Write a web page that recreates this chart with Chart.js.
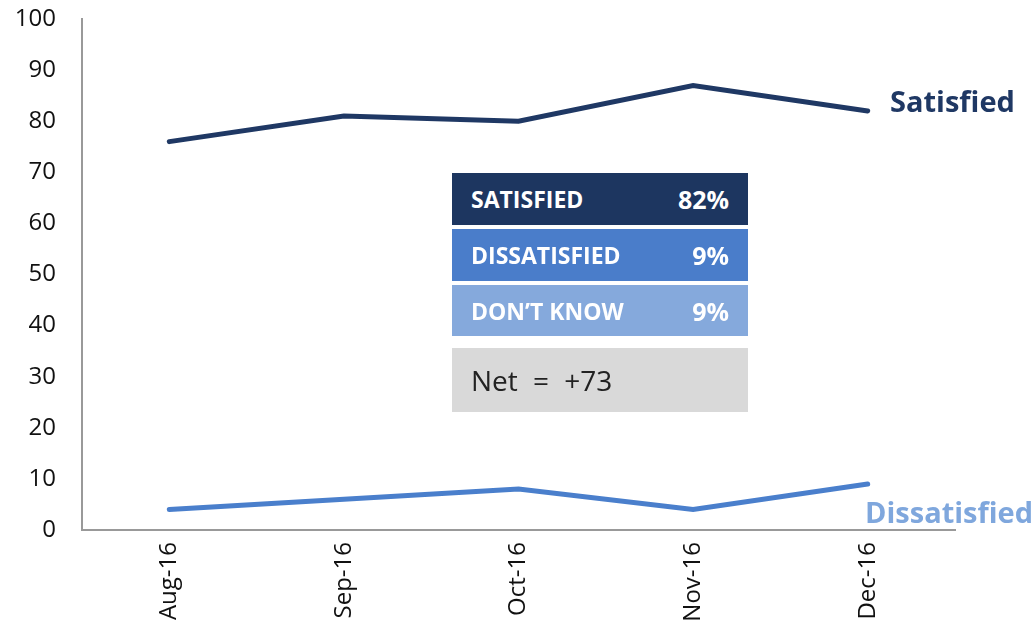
<!DOCTYPE html>
<html>
<head>
<meta charset="utf-8">
<script src="https://cdn.jsdelivr.net/npm/chart.js@4"></script>
<style>
  html, body { margin: 0; padding: 0; background: #fff; }
  #wrap { position: relative; width: 1036px; height: 627px; font-family: "Open Sans", sans-serif; }
  canvas { position: absolute; left: 0; top: 0; }
  .row { position: absolute; left: 452px; width: 296px; color: #fff; font-weight: 700; font-size: 23px; box-sizing: border-box; padding: 0 19px; display: flex; align-items: center; justify-content: space-between; }
  .pct { font-size: 25px; }
  .lbl { position: absolute; font-weight: 700; font-size: 29px; white-space: nowrap; line-height: 1; }
</style>
</head>
<body>
<div id="wrap">
  <canvas id="c" width="1036" height="627"></canvas>
  <div class="row" style="top:173px;height:52px;background:#1d3660;"><span>SATISFIED</span><span class="pct">82%</span></div>
  <div class="row" style="top:229px;height:52px;background:#4a7dca;"><span>DISSATISFIED</span><span class="pct">9%</span></div>
  <div class="row" style="top:285px;height:51px;background:#85a9dc;"><span>DON’T KNOW</span><span class="pct">9%</span></div>
  <div class="row" style="top:348px;height:64px;background:#d9d9d9;color:#222;font-weight:400;font-size:28px;word-spacing:8px;"><span>Net = +73</span></div>
  <div class="lbl" style="left:890px;top:86px;color:#1f3864;">Satisfied</div>
  <div class="lbl" style="left:865px;top:497px;color:#7fa7dd;">Dissatisfied</div>
</div>
<script>
const categories = ["Aug-16", "Sep-16", "Oct-16", "Nov-16", "Dec-16"];
const satisfied = [76, 81, 80, 87, 82];
const dissatisfied = [4, 6, 8, 4, 9];

new Chart(document.getElementById('c'), {
  type: 'line',
  data: {
    labels: categories,
    datasets: [
      { label: 'Satisfied', data: satisfied, borderColor: '#1f3864', borderWidth: 5, pointRadius: 0, tension: 0, borderCapStyle: 'round' },
      { label: 'Dissatisfied', data: dissatisfied, borderColor: '#4a7fcc', borderWidth: 5, pointRadius: 0, tension: 0, borderCapStyle: 'round' }
    ]
  },
  options: {
    responsive: false,
    animation: false,
    layout: { padding: { top: 19, right: 81, left: 0, bottom: 0 } },
    plugins: { legend: { display: false }, tooltip: { enabled: false } },
    scales: {
      x: {
        offset: true,
        grid: { display: false, drawTicks: false },
        border: { color: '#999', width: 2 },
        ticks: { color: '#111', font: { family: 'Open Sans', size: 24 }, minRotation: 90, maxRotation: 90, padding: 12 },
        afterFit: s => { s.height = 97; s.paddingLeft = 0; s.paddingRight = 0; s.paddingTop = 0; s.paddingBottom = 0; }
      },
      y: {
        min: 0, max: 100,
        grid: { display: false, drawTicks: false },
        border: { color: '#999', width: 2 },
        ticks: { stepSize: 10, color: '#111', font: { family: 'Open Sans', size: 24 }, padding: 26 },
        afterFit: s => { s.width = 82; s.paddingTop = 0; s.paddingBottom = 0; s.paddingLeft = 0; s.paddingRight = 0; }
      }
    }
  }
});
</script>
</body>
</html>
